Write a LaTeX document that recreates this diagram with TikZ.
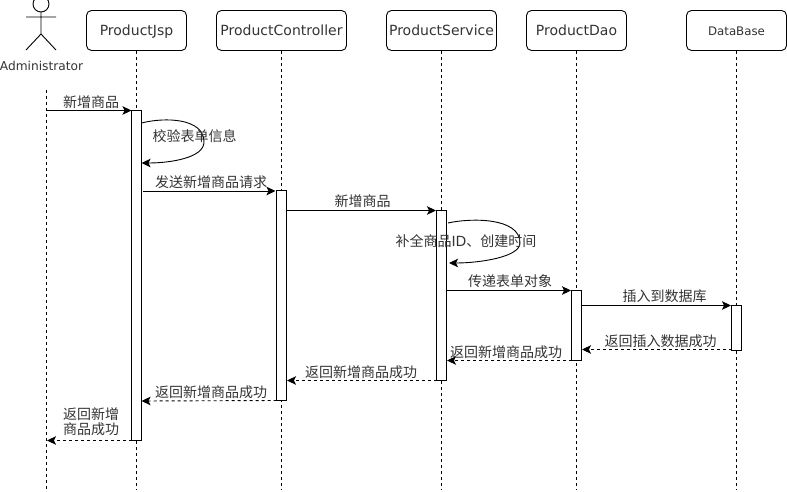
\documentclass[tikz,border=0pt]{standalone}
\usepackage{fontspec}
\setmainfont{DejaVu Sans}
\newfontfamily\cjk{Noto Sans CJK SC}
\usetikzlibrary{arrows.meta}
\tikzset{
  lifebox/.style={draw,rounded corners=5pt,minimum height=40pt,inner sep=0pt,text height=12pt,text depth=2pt,font=\fontsize{14}{16}\selectfont,text=black!80},
  lifeline/.style={dashed,dash pattern=on 3pt off 3pt,line width=0.9pt},
  actbox/.style={draw,fill=white,minimum width=10pt,inner sep=0pt,line width=0.9pt},
  msg/.style={-{Stealth[length=9pt,width=8.5pt,inset=2pt]},line width=0.9pt},
  ret/.style={msg,dash pattern=on 3pt off 3pt},
  lbl/.style={font=\cjk\fontsize{14}{15.5}\selectfont,text=black!80,inner sep=0pt,align=center,yshift=-0.7pt},
}
\begin{document}
\begin{tikzpicture}[x=1pt,y=-1pt,line width=0.9pt]
\useasboundingbox (0,0) rectangle (787,492);
% lifeline heads
\node[lifebox,minimum width=100pt] (jsp) at (136.5,30.5) {ProductJsp};
\node[lifebox,minimum width=130pt] (ctl) at (281.5,30.5) {ProductController};
\node[lifebox,minimum width=110pt] (svc) at (441.5,30.5) {ProductService};
\node[lifebox,minimum width=100pt] (dao) at (576.5,30.5) {ProductDao};
\node[lifebox,minimum width=100pt,font=\fontsize{11.8}{14}\selectfont] (db) at (736.5,30.5) {DataBase};
% lifeline ends
\coordinate (admT) at (46.5,90);
\coordinate (admB) at (46.5,490);
\coordinate (jspB) at (136.5,490);
\coordinate (ctlB) at (281.5,490);
\coordinate (svcB) at (441.5,490);
\coordinate (daoB) at (576.5,490);
\coordinate (dbB) at (736.5,490);
\draw[lifeline] (admT) -- (admB);
\draw[lifeline] (jsp.south) -- (jspB);
\draw[lifeline] (ctl.south) -- (ctlB);
\draw[lifeline] (svc.south) -- (svcB);
\draw[lifeline] (dao.south) -- (daoB);
\draw[lifeline] (db.south) -- (dbB);
% actor
\draw (41,4) circle (8);
\draw (41,12) -- (41,34) (26,17) -- (56,17) (26,50) -- (41,34) -- (56,50);
\node[font=\fontsize{12.2}{14}\selectfont,text=black!80,inner sep=0pt,yshift=-0.5pt] (adm) at (41.5,65) {Administrator};
% activations
\node[actbox,minimum height=330pt] (a1) at (136.5,275.5) {};
\node[actbox,minimum height=210pt] (a2) at (281.5,295.5) {};
\node[actbox,minimum height=170pt] (a3) at (441.5,295.5) {};
\node[actbox,minimum height=70pt] (a4) at (576.5,325.5) {};
\node[actbox,minimum height=45pt] (a5) at (736.5,328) {};
% message anchors
\coordinate (m1a) at (46.5,110.5);
\coordinate (m1b) at (131.5,110.5);
\coordinate (s1a) at (141.5,123);
\coordinate (s1b) at (141.5,163);
\coordinate (m2a) at (143,191);
\coordinate (m2b) at (275.5,191);
\coordinate (m3a) at (286.5,210.5);
\coordinate (m3b) at (436,210.5);
\coordinate (s2a) at (448,223);
\coordinate (s2b) at (449,263);
\coordinate (m4a) at (446.5,290.5);
\coordinate (m4b) at (571,290.5);
\coordinate (m5a) at (582,305.5);
\coordinate (m5b) at (731,305.5);
\coordinate (r1a) at (731.5,349.5);
\coordinate (r1b) at (582,349.5);
\coordinate (r2a) at (571.5,360.5);
\coordinate (r2b) at (447,360.5);
\coordinate (r3a) at (436.5,380.5);
\coordinate (r3b) at (287,380.5);
\coordinate (r4a) at (276.5,400.5);
\coordinate (r4b) at (141.5,401);
\coordinate (r5a) at (131.5,440.5);
\coordinate (r5b) at (47,440.5);
% messages
\draw[msg] (m1a) -- (m1b);
\draw[msg] (s1a) .. controls (165,117) and (204,118) .. (204,142) .. controls (204,158) and (170,163) .. (s1b);
\draw[msg] (m2a) -- (m2b);
\draw[msg] (m3a) -- (m3b);
\draw[msg] (s2a) .. controls (470,218) and (520,217) .. (520,243) .. controls (520,257) and (480,263) .. (s2b);
\draw[msg] (m4a) -- (m4b);
\draw[msg] (m5a) -- (m5b);
\draw[ret] (r1a) -- (r1b);
\draw[ret] (r2a) -- (r2b);
\draw[ret] (r3a) -- (r3b);
\draw[ret] (r4a) -- (r4b);
\draw[ret] (r5a) -- (r5b);
% labels
\node[lbl] (t1) at (91,101) {新增商品};
\node[lbl] (t2) at (194.5,135.5) {校验表单信息};
\node[lbl] (t3) at (211,181) {发送新增商品请求};
\node[lbl] (t4) at (362.5,200.5) {新增商品};
\node[lbl] (t5) at (466,240.5) {补全商品{\rmfamily ID}、创建时间};
\node[lbl] (t6) at (510,280.5) {传递表单对象};
\node[lbl] (t7) at (664.5,295.5) {插入到数据库};
\node[lbl] (t8) at (660.5,341) {返回插入数据成功};
\node[lbl] (t9) at (506,351) {返回新增商品成功};
\node[lbl] (t10) at (361,371) {返回新增商品成功};
\node[lbl] (t11) at (211,391) {返回新增商品成功};
\node[lbl] (t12) at (91,421) {返回新增\\商品成功};
\end{tikzpicture}
\end{document}
